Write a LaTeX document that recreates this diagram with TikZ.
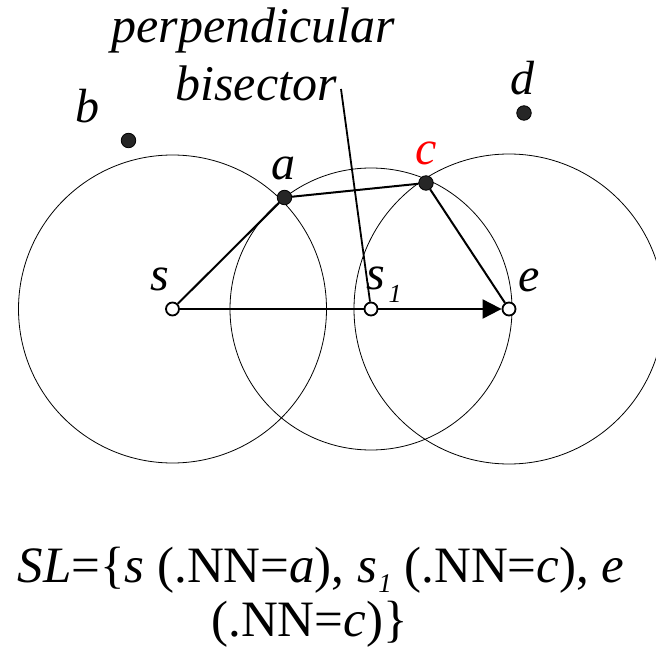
\documentclass[tikz,border=0pt]{standalone}
\usepackage{fontspec}
\setmainfont{Liberation Serif}
\usetikzlibrary{arrows.meta,backgrounds}
\begin{document}
\begin{tikzpicture}[x=1pt,y=-1pt,
  opennode/.style={circle,draw=black,fill=white,line width=1.8pt,minimum size=13pt,inner sep=0pt},
  dotnode/.style={circle,fill=black!85,draw=black,line width=0.8pt,minimum size=14.5pt,inner sep=0pt},
  lbl/.style={inner sep=0pt,anchor=base,font=\fontsize{48}{56}\selectfont\itshape},
  txt/.style={inner sep=0pt,anchor=base,font=\fontsize{51}{58}\selectfont},
  ring/.style={line width=0.8pt},
  edge/.style={line width=2pt}]
\clip (0,0) rectangle (656,647);
% points
\node[opennode] (s)  at (172.5,309) {};
\node[opennode] (s1) at (371,309) {};
\node[opennode] (e)  at (509,309) {};
\node[dotnode] (a) at (284.5,197.5) {};
\node[dotnode] (c) at (426,183) {};
\node[dotnode] (b) at (128.5,140.5) {};
\node[dotnode] (d) at (524,113) {};
% labels
\node[lbl] (lb) at (87,123) {b};
\node[lbl] (ld) at (522,95) {d};
\node[lbl,text=red] (lc) at (426.5,165) {c};
\node[lbl] (la) at (283.5,180) {a};
\node[lbl] (ls) at (159.5,290) {s};
\node[lbl] (ls1) at (376,289) {s};
\node[lbl,font=\fontsize{26}{28}\selectfont\itshape] (ls1i) at (395,302) {1};
\node[lbl] (le) at (529,291) {e};
\node[lbl,font=\fontsize{50}{58}\selectfont\itshape] (per) at (253,43) {perpendicular};
\node[lbl,font=\fontsize{50}{58}\selectfont\itshape] (bis) at (256,101) {bisector};
\coordinate (bt) at (341,89);
% formula
\node[txt] (f1) at (321,582) {\textit{SL}=\{\textit{s} (.NN=\textit{a}), \textit{s}\raisebox{-10pt}{\fontsize{27}{29}\selectfont\itshape\kern1pt 1} (.NN=\textit{c}), \textit{e}};
\node[txt] (f2) at (309.5,636) {(.NN=\textit{c})\}};
\begin{pgfonlayer}{background}
\draw[ring] (s) circle[radius=154];
\draw[ring] (s1) circle[radius=141];
\draw[ring] (e) circle[radius=155];
\draw[edge] (s) -- (a);
\draw[edge] (a) -- (c);
\draw[edge] (c) -- (e);
\draw[edge,-{Triangle[length=19pt,width=19pt]}] (s) -- (e);
\draw[line width=1.8pt] (bt) -- (s1);
\end{pgfonlayer}
\end{tikzpicture}
\end{document}
